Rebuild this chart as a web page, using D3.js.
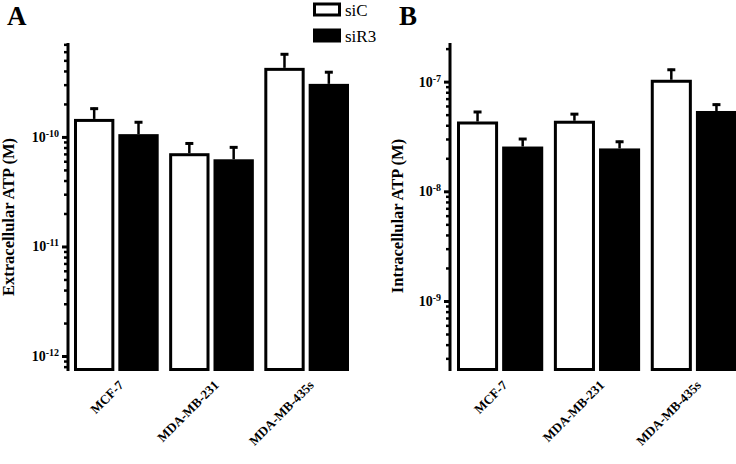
<!DOCTYPE html>
<html>
<head>
<meta charset="utf-8">
<script src="https://cdn.jsdelivr.net/npm/d3@7"></script>
<style>
  body { margin: 0; background: #fff; }
  text { font-family: "Liberation Serif", "Times New Roman", serif; }
</style>
</head>
<body>
<svg id="chart" width="736" height="464"></svg>
<script>
const cells = ["MCF-7", "MDA-MB-231", "MDA-MB-435s"];
const groups = ["siC", "siR3"];

// extracellular ATP (M), mean and top of error bar
const extraSiC = [1.46e-10, 7.1e-11, 4.27e-10];
const extraSiCErr = [1.85e-10, 8.9e-11, 5.8e-10];
const extraSiR3 = [1.06e-10, 6.25e-11, 3.05e-10];
const extraSiR3Err = [1.39e-10, 8.2e-11, 3.98e-10];

// intracellular ATP (M)
const intraSiC = [4.33e-8, 4.4e-8, 1.04e-7];
const intraSiCErr = [5.4e-8, 5.16e-8, 1.31e-7];
const intraSiR3 = [2.56e-8, 2.46e-8, 5.4e-8];
const intraSiR3Err = [3.06e-8, 2.89e-8, 6.3e-8];

const extraTicks = [-10, -11, -12];
const intraTicks = [-7, -8, -9];

const svg = d3.select("#chart");

function panel(opt) {
    const g = svg.append("g");

    const y = d3.scaleLog().domain(opt.domain).range([371, 43]);
    const x0 = d3.scaleBand().domain(cells).range(opt.xRange).paddingInner(0.11).paddingOuter(0);
    const x1 = d3.scaleBand().domain(groups).range([0, x0.bandwidth()]).paddingInner(0.09);

    const data = [];
    cells.forEach((c, i) => {
        data.push({ cell: c, grp: "siC", v: opt.siC[i], e: opt.siCErr[i] });
        data.push({ cell: c, grp: "siR3", v: opt.siR3[i], e: opt.siR3Err[i] });
    });

    // error bars (upper only)
    const err = g.append("g").attr("stroke", "#000").attr("stroke-width", 2.5);
    data.forEach(d => {
        const cx = x0(d.cell) + x1(d.grp) + x1.bandwidth() / 2;
        err.append("line").attr("x1", cx).attr("x2", cx).attr("y1", y(d.v)).attr("y2", y(d.e));
        err.append("line").attr("x1", cx - 4).attr("x2", cx + 4).attr("y1", y(d.e) + 1).attr("y2", y(d.e) + 1)
            .attr("stroke-width", 3);
    });

    // bars
    g.append("g").selectAll("rect")
        .data(data)
        .join("rect")
        .attr("x", d => x0(d.cell) + x1(d.grp) + (d.grp === "siC" ? 1.5 : 0))
        .attr("width", d => x1.bandwidth() - (d.grp === "siC" ? 3 : 0))
        .attr("y", d => y(d.v) + (d.grp === "siC" ? 1.5 : 0))
        .attr("height", d => 371 - y(d.v) - (d.grp === "siC" ? 3 : 0))
        .attr("fill", d => d.grp === "siC" ? "#fff" : "#000")
        .attr("stroke", d => d.grp === "siC" ? "#000" : "none")
        .attr("stroke-width", 3);

    // y axis: minor ticks
    const [lo, hi] = opt.domain;
    const minor = [];
    for (let k = Math.floor(Math.log10(lo)); k <= Math.ceil(Math.log10(hi)); k++) {
        for (let m = 2; m <= 9; m++) {
            const v = m * Math.pow(10, k);
            if (v >= lo && v <= hi) minor.push(v);
        }
    }
    const minorAxis = g.append("g").attr("transform", `translate(${opt.axisX},0)`)
        .call(d3.axisLeft(y).tickValues(minor).tickSize(4).tickFormat(""));
    minorAxis.select(".domain").remove();
    minorAxis.selectAll("line").attr("stroke-width", 2.5);

    // major ticks with 10^n labels
    const majorAxis = g.append("g").attr("transform", `translate(${opt.axisX},0)`)
        .call(d3.axisLeft(y).tickValues(opt.ticks.map(t => Math.pow(10, t))).tickSize(6).tickPadding(3).tickFormat(""));
    majorAxis.select(".domain").attr("d", `M0,43V371`).attr("stroke-width", 3);
    majorAxis.selectAll("line").attr("stroke-width", 3);
    majorAxis.selectAll(".tick text")
        .attr("font-size", 14).attr("font-weight", "bold").attr("fill", "#000")
        .attr("font-family", "Liberation Serif, serif")
        .each(function (d) {
            const t = d3.select(this);
            const exp = Math.round(Math.log10(d));
            t.append("tspan").text("10");
            t.append("tspan").attr("font-size", 10).attr("dy", "-0.5em").text(exp);
        });

    // axis title
    g.append("text")
        .attr("transform", `translate(${opt.titleX},${opt.titleY}) rotate(-90)`)
        .attr("text-anchor", "middle")
        .attr("font-size", 16.5).attr("font-weight", "bold")
        .text(opt.title);

    // x labels, slanted
    g.append("g").selectAll("text")
        .data(cells)
        .join("text")
        .attr("transform", d => `translate(${x0(d) + x0.bandwidth() / 2 + 8},386) rotate(-45)`)
        .attr("text-anchor", "end")
        .attr("font-size", 13).attr("font-weight", "bold")
        .text(d => d);

    // panel letter
    g.append("text").attr("x", opt.letterX).attr("y", 25)
        .attr("font-size", 27).attr("font-weight", "bold").text(opt.letter);
}

panel({
    domain: [7.3e-13, 7.2e-10], xRange: [74, 349], axisX: 68,
    siC: extraSiC, siCErr: extraSiCErr, siR3: extraSiR3, siR3Err: extraSiR3Err,
    ticks: extraTicks, title: "Extracellular ATP (M)", titleX: 14, titleY: 217,
    letter: "A", letterX: 7
});

panel({
    domain: [2.3e-10, 2.25e-7], xRange: [457, 737], axisX: 450,
    siC: intraSiC, siCErr: intraSiCErr, siR3: intraSiR3, siR3Err: intraSiR3Err,
    ticks: intraTicks, title: "Intracellular ATP (M)", titleX: 403, titleY: 216,
    letter: "B", letterX: 399
});

// legend
const legend = svg.append("g");
groups.forEach((gname, i) => {
    const yy = i === 0 ? 2.5 : 28.5;
    legend.append("rect")
        .attr("x", gname === "siC" ? 314.5 : 313).attr("y", gname === "siC" ? yy + 1.5 : yy)
        .attr("width", gname === "siC" ? 25 : 28).attr("height", gname === "siC" ? 11 : 14)
        .attr("fill", gname === "siC" ? "#fff" : "#000")
        .attr("stroke", gname === "siC" ? "#000" : "none").attr("stroke-width", 3);
    legend.append("text").attr("x", 345).attr("y", i === 0 ? 15.5 : 42)
        .attr("font-size", 17).text(gname);
});
</script>
</body>
</html>
